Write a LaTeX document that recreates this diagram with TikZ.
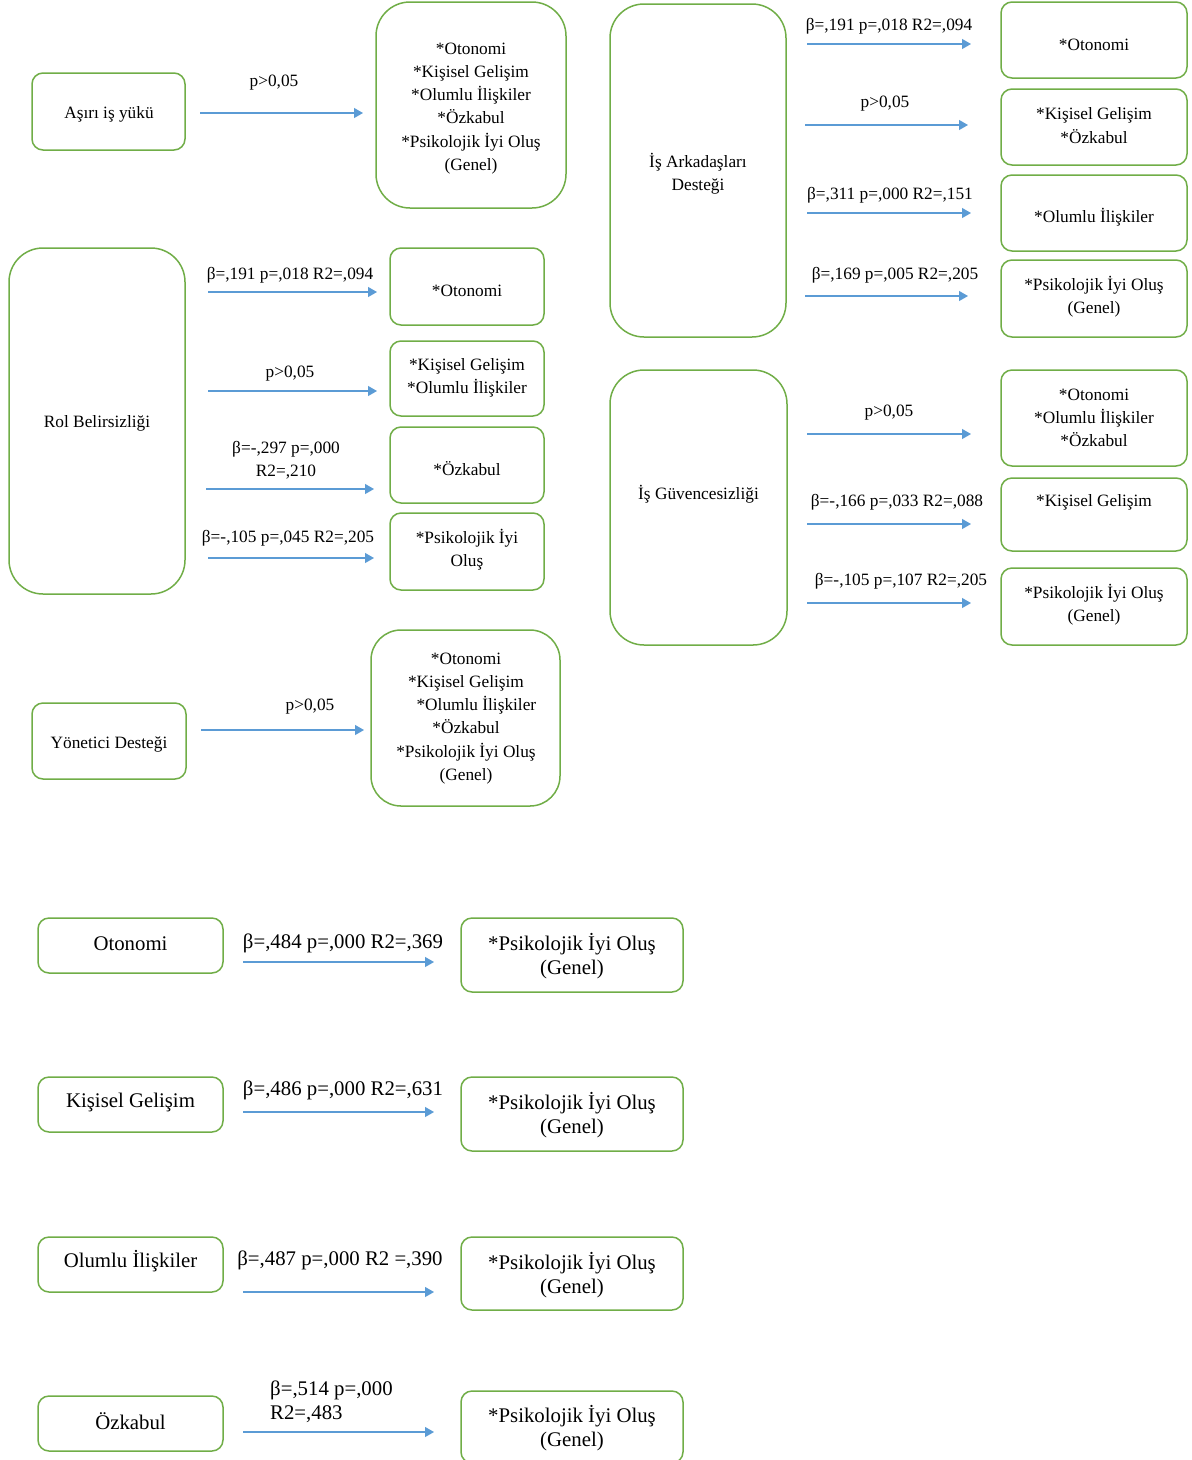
\documentclass[tikz,border=0pt]{standalone}
\usepackage{fontspec}
\setmainfont{Liberation Serif}
\usetikzlibrary{arrows.meta}
\definecolor{boxgreen}{HTML}{70AD47}
\definecolor{arrblue}{HTML}{5B9BD5}
\newcommand\smallsize{\fontsize{17.3}{23.2}\selectfont}
\newcommand\largesize{\fontsize{20.8}{24}\selectfont}
\tikzset{
  box/.style={draw=boxgreen, line width=1.5pt, rounded corners=11pt},
  bigbox/.style={box, rounded corners=34pt},
  arr/.style={draw=arrblue, line width=1.2pt, -{Triangle[length=9pt,width=10pt]}},
  lbl/.style={align=center, inner sep=0pt, yshift=-2.5pt}
}

\begin{document}
\begin{tikzpicture}[x=1pt, y=-1pt, font=\smallsize]
\useasboundingbox (0,0) rectangle (1192,1460);

%Asiri is yuku
\node[box, minimum width=153pt, minimum height=77pt] (ay) at (108.5,111.5) {};
\node[bigbox, minimum width=190pt, minimum height=206pt] (ayt) at (471,105) {};
\node[lbl] (ayx) at (109,112) {Aşırı iş yükü};
\node[lbl] (aytx) at (471,106)
  {*Otonomi\\*Kişisel Gelişim\\*Olumlu İlişkiler\\*Özkabul\\*Psikolojik İyi Oluş\\(Genel)};
\coordinate (ays) at (200,113);
\coordinate (aye) at (363,113);
\draw[arr] (ays) -- (aye);
\node[lbl] (ayl) at (274,80) {p>0,05};

%Rol belirsizligi
\node[bigbox, minimum width=176pt, minimum height=346pt] (rb) at (97,421) {};
\node[lbl] (rbx) at (97,421) {Rol Belirsizliği};
\begin{scope}[every node/.append style={minimum width=154pt}]
\node[box, minimum height=77pt] (rb1) at (467,286.5) {};
\node[box, minimum height=75pt] (rb2) at (467,378.5) {};
\node[box, minimum height=76pt] (rb3) at (467,465) {};
\node[box, minimum height=77pt] (rb4) at (467,551.5) {};
\end{scope}
\node[lbl] (rb1x) at (467,288) {*Otonomi};
\node[lbl] (rb2x) at (467,375.5) {*Kişisel Gelişim\\*Olumlu İlişkiler};
\node[lbl] (rb3x) at (467,466) {*Özkabul};
\node[lbl] (rb4x) at (467,547.5) {*Psikolojik İyi\\Oluş};
\coordinate (rbs1) at (208,292);  \coordinate (rbe1) at (377,292);
\coordinate (rbs2) at (208,391);  \coordinate (rbe2) at (377,391);
\coordinate (rbs3) at (206,489);  \coordinate (rbe3) at (374,489);
\coordinate (rbs4) at (208,558);  \coordinate (rbe4) at (374,558);
\foreach \i in {1,...,4} \draw[arr] (rbs\i) -- (rbe\i);
\node[lbl] (rbl1) at (290,273) {β=,191 p=,018 R2=,094};
\node[lbl] (rbl2) at (290,371) {p>0,05};
\node[lbl] (rbl3) at (286,457.5) {β=-,297 p=,000\\R2=,210};
\node[lbl] (rbl4) at (288,536) {β=-,105 p=,045 R2=,205};

%Yonetici destegi
\node[box, minimum width=154pt, minimum height=76pt] (yd) at (109,741) {};
\node[bigbox, rounded corners=30pt, minimum width=189pt, minimum height=176pt] (ydt) at (465.5,718) {};
\node[lbl] (ydx) at (109,742) {Yönetici Desteği};
\node[lbl] (ydtx) at (466,716)
  {*Otonomi\\*Kişisel Gelişim\\\hspace{1.2em}*Olumlu İlişkiler\\*Özkabul\\*Psikolojik İyi Oluş\\(Genel)};
\coordinate (yds) at (201,730);
\coordinate (yde) at (364,730);
\draw[arr] (yds) -- (yde);
\node[lbl] (ydl) at (310,704) {p>0,05};

%Is arkadaslari destegi
\node[bigbox, minimum width=176pt, minimum height=333pt] (ia) at (698,170.5) {};
\node[lbl] (iax) at (698,171.5) {İş Arkadaşları\\Desteği};
\begin{scope}[every node/.append style={minimum width=186pt}]
\node[box, minimum height=76pt] (ia1) at (1094,40) {};
\node[box, minimum height=76pt] (ia2) at (1094,127) {};
\node[box, minimum height=76pt] (ia3) at (1094,213) {};
\node[box, minimum height=77pt] (ia4) at (1094,298.5) {};
\end{scope}
\node[lbl] (ia1x) at (1094,42) {*Otonomi};
\node[lbl] (ia2x) at (1094,123) {*Kişisel Gelişim\\*Özkabul};
\node[lbl] (ia3x) at (1094,215) {*Olumlu İlişkiler};
\node[lbl] (ia4x) at (1094,294.5) {*Psikolojik İyi Oluş\\(Genel)};
\coordinate (ias1) at (807,44);   \coordinate (iae1) at (971,44);
\coordinate (ias2) at (805,125);  \coordinate (iae2) at (968,125);
\coordinate (ias3) at (807,213);  \coordinate (iae3) at (971,213);
\coordinate (ias4) at (805,296);  \coordinate (iae4) at (968,296);
\foreach \i in {1,...,4} \draw[arr] (ias\i) -- (iae\i);
\node[lbl] (ial1) at (889,24) {β=,191 p=,018 R2=,094};
\node[lbl] (ial2) at (885,101) {p>0,05};
\node[lbl] (ial3) at (890,193) {β=,311 p=,000 R2=,151};
\node[lbl] (ial4) at (895,273) {β=,169 p=,005 R2=,205};

%Is guvencesizligi
\node[bigbox, minimum width=177pt, minimum height=275pt] (ig) at (698.5,507.5) {};
\node[lbl] (igx) at (698.5,492) {İş Güvencesizliği};
\begin{scope}[every node/.append style={minimum width=186pt}]
\node[box, minimum height=96pt] (ig1) at (1094,418) {};
\node[box, minimum height=73pt] (ig2) at (1094,514.5) {};
\node[box, minimum height=77pt] (ig3) at (1094,606.5) {};
\end{scope}
\node[lbl] (ig1x) at (1094,415.5) {*Otonomi\\*Olumlu İlişkiler\\*Özkabul};
\node[lbl] (ig2x) at (1094,500) {*Kişisel Gelişim};
\node[lbl] (ig3x) at (1094,602.5) {*Psikolojik İyi Oluş\\(Genel)};
\coordinate (igs1) at (807,434);  \coordinate (ige1) at (971,434);
\coordinate (igs2) at (807,524);  \coordinate (ige2) at (971,524);
\coordinate (igs3) at (807,603);  \coordinate (ige3) at (971,603);
\foreach \i in {1,...,3} \draw[arr] (igs\i) -- (ige\i);
\node[lbl] (igl1) at (889,410) {p>0,05};
\node[lbl] (igl2) at (897,500) {β=-,166 p=,033 R2=,088};
\node[lbl] (igl3) at (901,579) {β=-,105 p=,107 R2=,205};

%psikolojik iyi olus
\begin{scope}[every node/.append style={font=\largesize}]
\node[box, minimum width=185pt, minimum height=55pt] (ot) at (130.5,945.5) {};
\node[box, minimum width=185pt, minimum height=55pt] (kg) at (130.5,1104.5) {};
\node[box, minimum width=185pt, minimum height=55pt] (oi) at (130.5,1264.5) {};
\node[box, minimum width=185pt, minimum height=55pt] (oz) at (130.5,1423.5) {};
\node[box, minimum width=222pt, minimum height=74pt] (ott) at (572,955) {};
\node[box, minimum width=222pt, minimum height=74pt] (kgt) at (572,1114) {};
\node[box, minimum width=222pt, minimum height=73pt] (oit) at (572,1273.5) {};
\node[box, minimum width=222pt, minimum height=72pt] (ozt) at (572,1427) {};
\node[lbl] (otx) at (130.5,941) {Otonomi};
\node[lbl] (kgx) at (130.5,1100) {Kişisel Gelişim};
\node[lbl] (oix) at (130.5,1259) {Olumlu İlişkiler};
\node[lbl] (ozx) at (130.5,1419) {Özkabul};
\foreach \n/\y in {ott/954,kgt/1113,oit/1273,ozt/1426}
  \node[lbl] (\n x) at (572,\y) {*Psikolojik İyi Oluş\\(Genel)};
\node[lbl] (otl) at (343,941) {β=,484 p=,000 R2=,369};
\node[lbl] (kgl) at (343,1088) {β=,486 p=,000 R2=,631};
\node[lbl] (oil) at (340,1258) {β=,487 p=,000 R2 =,390};
\node[lbl, align=left, anchor=west] (ozl) at (270,1399) {β=,514 p=,000\\R2=,483};
\end{scope}
\coordinate (ots) at (243,962);   \coordinate (ote) at (434,962);
\coordinate (kgs) at (243,1112);  \coordinate (kge) at (434,1112);
\coordinate (ois) at (243,1292);  \coordinate (oie) at (434,1292);
\coordinate (ozs) at (243,1432);  \coordinate (oze) at (434,1432);
\foreach \n in {ot,kg,oi,oz} \draw[arr] (\n s) -- (\n e);
\end{tikzpicture}
\end{document}
